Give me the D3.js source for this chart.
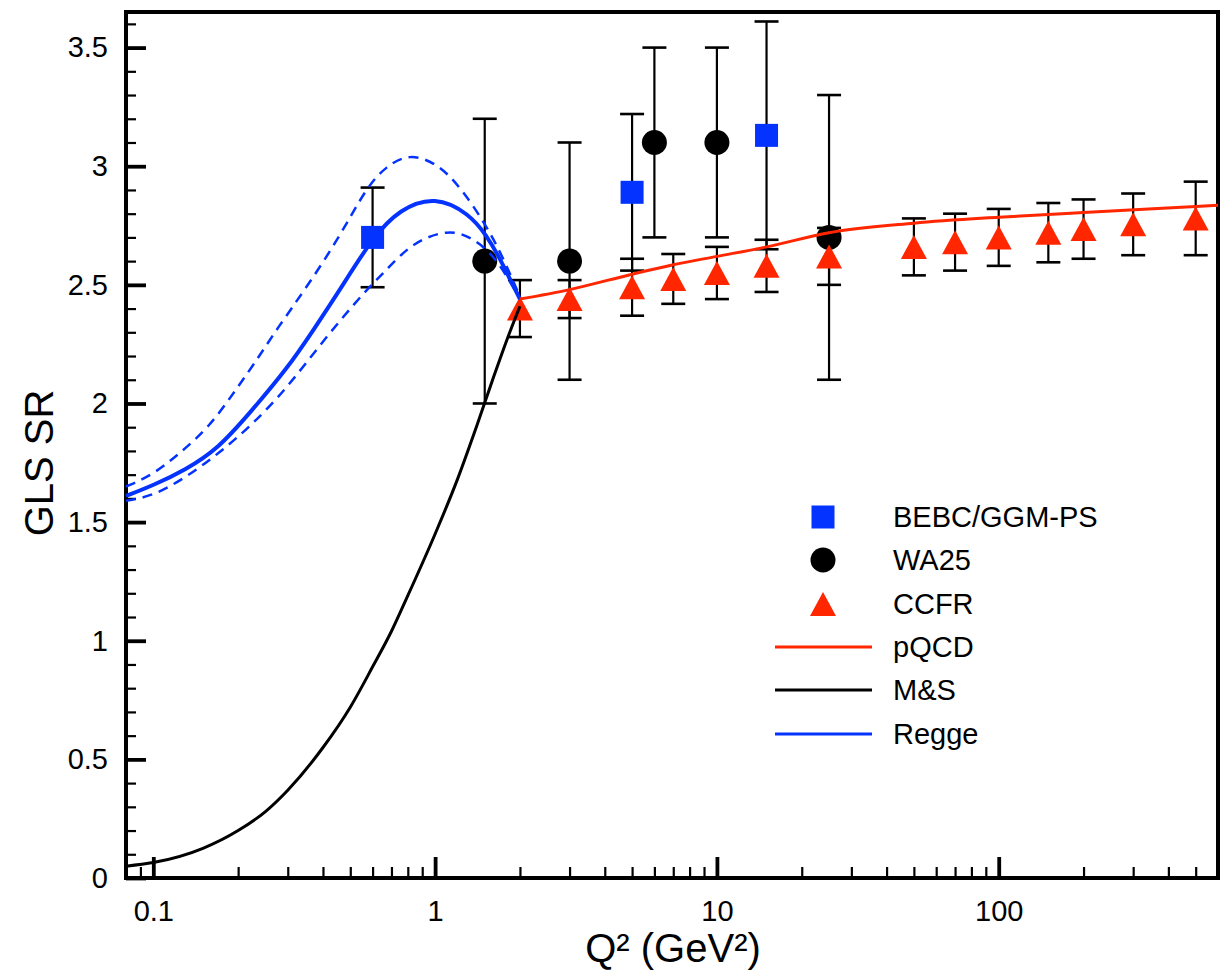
<!DOCTYPE html>
<html>
<head>
<meta charset="utf-8">
<script src="https://d3js.org/d3.v7.min.js"></script>
<style>
  body { margin: 0; background: #fff; }
  svg text { font-family: "Liberation Sans", Arial, Helvetica, sans-serif; fill: #000; }
</style>
</head>
<body>
<div id="chart"></div>
<script>
// ---- data ----
var bebcQ = [0.6, 5, 15];
var bebcV = [2.70, 2.89, 3.13];
var bebcErr = [0.21, 0.33, 0.48];

var wa25Q = [1.5, 3, 6, 10, 25];
var wa25V = [2.60, 2.60, 3.10, 3.10, 2.70];
var wa25Err = [0.6, 0.5, 0.4, 0.4, 0.6];

var ccfrQ = [2, 3, 5, 7, 10, 15, 25, 50, 70, 100, 150, 200, 300, 500];
var ccfrV = [2.40, 2.44, 2.49, 2.525, 2.55, 2.58, 2.62, 2.66, 2.68, 2.70, 2.72, 2.735, 2.755, 2.78];
var ccfrErr = [0.12, 0.08, 0.12, 0.105, 0.11, 0.11, 0.12, 0.12, 0.12, 0.12, 0.125, 0.125, 0.13, 0.155];

var pqcdQ = [2, 3, 5, 7, 10, 15, 25, 50, 100, 200, 500, 600];
var pqcdV = [2.44, 2.48, 2.545, 2.585, 2.62, 2.66, 2.72, 2.76, 2.785, 2.805, 2.83, 2.835];

var msQ = [0.08, 0.1, 0.15, 0.2, 0.25, 0.3, 0.4, 0.5, 0.6, 0.7, 0.8, 1, 1.2, 1.4, 1.6, 1.8, 2];
var msV = [0.05, 0.065, 0.125, 0.20, 0.28, 0.37, 0.55, 0.72, 0.89, 1.04, 1.19, 1.45, 1.68, 1.90, 2.10, 2.27, 2.41];

var reggeQ = [0.08, 0.1, 0.13, 0.17, 0.22, 0.3, 0.37, 0.46, 0.6, 0.75, 1.0, 1.32, 1.52, 1.7, 1.85, 2.0];
var reggeV = [1.61, 1.655, 1.72, 1.81, 1.96, 2.15, 2.31, 2.48, 2.70, 2.82, 2.875, 2.80, 2.71, 2.61, 2.52, 2.44];

var reggeHiQ = [0.08, 0.1, 0.124, 0.158, 0.197, 0.238, 0.273, 0.35, 0.457, 0.57, 0.67, 0.81, 1.03, 1.25, 1.52, 1.75, 2.0];
var reggeHiV = [1.65, 1.70, 1.79, 1.90, 2.06, 2.20, 2.31, 2.49, 2.70, 2.91, 3.00, 3.055, 3.01, 2.90, 2.75, 2.61, 2.45];

var reggeLoQ = [0.08, 0.1, 0.131, 0.171, 0.224, 0.296, 0.41, 0.57, 0.67, 0.83, 1.12, 1.35, 1.64, 2.0];
var reggeLoV = [1.59, 1.61, 1.69, 1.79, 1.91, 2.06, 2.28, 2.48, 2.56, 2.68, 2.735, 2.70, 2.62, 2.44];

var xMajor = [0.1, 1, 10, 100];
var xLabels = ["0.1", "1", "10", "100"];
var yMajor = [0, 0.5, 1, 1.5, 2, 2.5, 3, 3.5];

var BLUE = "#0433ff", RED = "#ff2600";

// ---- layout ----
var W = 1222, H = 973;
var plotLeft = 126, plotRight = 1218, plotTop = 12, plotBottom = 878;

var svg = d3.select("#chart").append("svg")
    .attr("width", W)
    .attr("height", H);

var x = d3.scaleLog().domain([0.08, 600]).range([plotLeft, plotRight]);
var y = d3.scaleLinear().domain([0, 3.65]).range([plotBottom, plotTop]);

function zip(q, v) { return q.map(function(d, i) { return [d, v[i]]; }); }

// minor ticks
var xMinor = [];
[0.01, 0.1, 1, 10, 100].forEach(function(p) {
  for (var k = 2; k <= 9; k++) {
    var t = p * k;
    if (t > 0.081 && t < 600) xMinor.push(t);
  }
});
var yMinor = d3.range(0, 37).map(function(i) { return i / 10; })
    .filter(function(d) { return Math.abs(d * 2 - Math.round(d * 2)) > 1e-6; });

// axes (ticks point inward)
var gx = svg.append("g").attr("transform", "translate(0," + plotBottom + ")");
gx.append("g").call(d3.axisBottom(x).tickValues(xMinor).tickSize(-11).tickFormat(""));
gx.append("g").attr("class", "major").call(d3.axisBottom(x).tickValues(xMajor).tickSize(-21).tickPadding(22)
    .tickFormat(function(d, i) { return xLabels[i]; }));
gx.selectAll(".domain").remove();

var gy = svg.append("g").attr("transform", "translate(" + plotLeft + ",0)");
gy.append("g").call(d3.axisLeft(y).tickValues(yMinor).tickSize(-10).tickFormat(""));
gy.append("g").attr("class", "major").call(d3.axisLeft(y).tickValues(yMajor).tickSize(-20).tickPadding(18)
    .tickFormat(function(d) { return String(d); }));
gy.selectAll(".domain").remove();

svg.selectAll(".tick line").attr("stroke", "#000").attr("stroke-width", 2.2);
svg.selectAll(".major .tick line").attr("stroke-width", 3.8);
svg.selectAll(".tick text").attr("font-size", 29).attr("fill", "#000");
svg.selectAll(".major").attr("font-family", null).attr("font-size", null);

// frame
svg.append("rect")
    .attr("x", plotLeft).attr("y", plotTop)
    .attr("width", plotRight - plotLeft).attr("height", plotBottom - plotTop)
    .attr("fill", "none").attr("stroke", "#000").attr("stroke-width", 4);

// axis titles
svg.append("text")
    .attr("transform", "translate(53,463) rotate(-90)")
    .attr("text-anchor", "middle")
    .attr("font-size", 40)
    .text("GLS SR");

svg.append("text")
    .attr("x", 673).attr("y", 962)
    .attr("text-anchor", "middle")
    .attr("font-size", 40)
    .text("Q² (GeV²)");

// error bars
function errorBars(q, v, e) {
  var g = svg.append("g").attr("stroke", "#000").attr("stroke-width", 2.2);
  q.forEach(function(d, i) {
    var cx = x(d), y1 = y(v[i] - e[i]), y2 = y(v[i] + e[i]);
    g.append("line").attr("x1", cx).attr("x2", cx).attr("y1", y1).attr("y2", y2);
    g.append("line").attr("x1", cx - 12).attr("x2", cx + 12).attr("y1", y1).attr("y2", y1).attr("stroke-width", 2.6);
    g.append("line").attr("x1", cx - 12).attr("x2", cx + 12).attr("y1", y2).attr("y2", y2).attr("stroke-width", 2.6);
  });
}
errorBars(bebcQ, bebcV, bebcErr);
errorBars(wa25Q, wa25V, wa25Err);
errorBars(ccfrQ, ccfrV, ccfrErr);

// markers
function square(g, cx, cy) {
  g.append("rect").attr("x", cx - 11.5).attr("y", cy - 11.5)
      .attr("width", 23).attr("height", 23).attr("fill", BLUE);
}
function circle(g, cx, cy) {
  g.append("circle").attr("cx", cx).attr("cy", cy).attr("r", 12.5).attr("fill", "#000");
}
function triangle(g, cx, cy) {
  g.append("path")
      .attr("d", "M" + cx + "," + (cy - 12) + "L" + (cx + 13) + "," + (cy + 12) + "L" + (cx - 13) + "," + (cy + 12) + "Z")
      .attr("fill", RED);
}
var gm = svg.append("g");
bebcQ.forEach(function(d, i) { square(gm, x(d), y(bebcV[i])); });
wa25Q.forEach(function(d, i) { circle(gm, x(d), y(wa25V[i])); });
ccfrQ.forEach(function(d, i) { triangle(gm, x(d), y(ccfrV[i])); });

// curves
function lineWith(curve) {
  return d3.line()
      .x(function(d) { return x(d[0]); })
      .y(function(d) { return y(d[1]); })
      .curve(curve);
}
var mono = lineWith(d3.curveMonotoneX);
var basis = lineWith(d3.curveBasis);

svg.append("path").datum(zip(msQ, msV)).attr("d", mono)
    .attr("fill", "none").attr("stroke", "#000").attr("stroke-width", 3);
svg.append("path").datum(zip(reggeHiQ, reggeHiV)).attr("d", basis)
    .attr("fill", "none").attr("stroke", BLUE).attr("stroke-width", 2.5)
    .attr("stroke-dasharray", "10,7");
svg.append("path").datum(zip(reggeLoQ, reggeLoV)).attr("d", basis)
    .attr("fill", "none").attr("stroke", BLUE).attr("stroke-width", 2.5)
    .attr("stroke-dasharray", "10,7");
svg.append("path").datum(zip(reggeQ, reggeV)).attr("d", basis)
    .attr("fill", "none").attr("stroke", BLUE).attr("stroke-width", 4);
svg.append("path").datum(zip(pqcdQ, pqcdV)).attr("d", mono)
    .attr("fill", "none").attr("stroke", RED).attr("stroke-width", 3);

// legend
var legendNames = ["BEBC/GGM-PS", "WA25", "CCFR", "pQCD", "M&S", "Regge"];
var legendRows = [517, 560, 604, 647, 690, 734];
var gl = svg.append("g");
square(gl, 823, legendRows[0]);
circle(gl, 823, legendRows[1]);
triangle(gl, 823, legendRows[2]);
[RED, "#000", BLUE].forEach(function(c, i) {
  gl.append("line").attr("x1", 775).attr("x2", 872)
      .attr("y1", legendRows[3 + i]).attr("y2", legendRows[3 + i])
      .attr("stroke", c).attr("stroke-width", 3);
});
legendNames.forEach(function(n, i) {
  gl.append("text").attr("x", 893).attr("y", legendRows[i]).attr("dy", "0.36em")
      .attr("font-size", 29).text(n);
});
</script>
</body>
</html>
